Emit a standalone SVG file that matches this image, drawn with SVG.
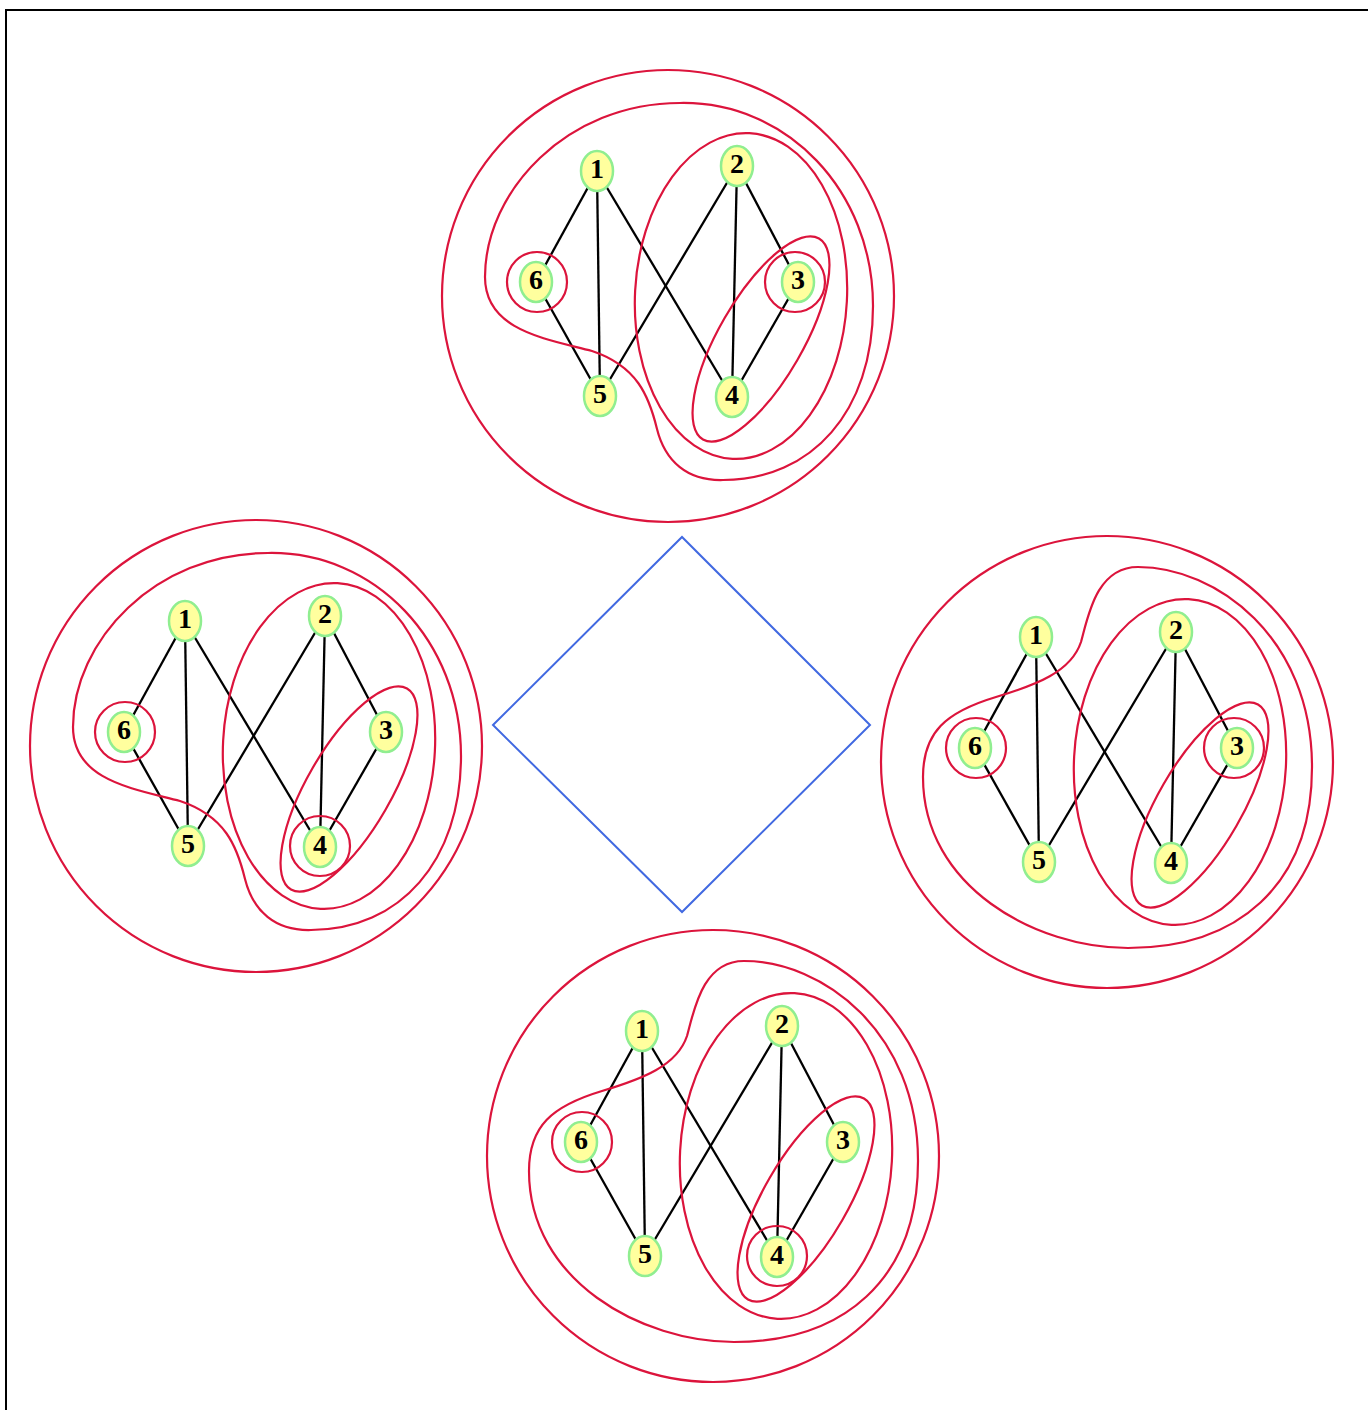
<svg xmlns="http://www.w3.org/2000/svg" xmlns:xlink="http://www.w3.org/1999/xlink" width="1368" height="1410" viewBox="0 0 1368 1410">
<style>
.frame{fill:none;stroke:#000;stroke-width:2}
.dia{fill:none;stroke:#4169e1;stroke-width:2}
.cl{fill:none;stroke:#dc143c;stroke-width:2.2}
.e{stroke:#000;stroke-width:2.3;fill:none}
.n ellipse{fill:#ffff9e;stroke:#90ee90;stroke-width:2.5}
.n text{font-family:"Liberation Serif",serif;font-weight:bold;font-size:28px;text-anchor:middle;fill:#000}
</style>
<defs>
<g id="edges">
<line class="e" x1="0" y1="0" x2="-61" y2="111"/>
<line class="e" x1="0" y1="0" x2="3" y2="225"/>
<line class="e" x1="0" y1="0" x2="135" y2="226"/>
<line class="e" x1="140" y1="-5" x2="3" y2="225"/>
<line class="e" x1="140" y1="-5" x2="135" y2="226"/>
<line class="e" x1="140" y1="-5" x2="201" y2="111"/>
<line class="e" x1="-61" y1="111" x2="3" y2="225"/>
<line class="e" x1="201" y1="111" x2="135" y2="226"/>
</g>
<path id="blobA" class="cl" d="M 83,-68 C 190,-70 276,20 276,135 C 276,240 215,309 126,309 C 90,310 68,290 60,258 C 52,225 40,195 -5,180 C -50,168 -112,160 -112,106 C -112,20 -30,-68 83,-68 Z"/>
<path id="blobB" class="cl" d="M 102,-70 C 180,-70 276,0 276,130 C 276,250 200,311 92,311 C 0,311 -113,250 -113,140 C -113,95 -90,75 -40,60 C 0,48 35,35 45,5 C 52,-20 60,-70 102,-70 Z"/>
<g id="common">
<circle class="cl" cx="71" cy="125" r="226"/>
<ellipse class="cl" cx="144" cy="125" rx="106" ry="163" transform="rotate(3 144 125)"/>
<ellipse class="cl" cx="164" cy="168" rx="116" ry="42" transform="rotate(-60 164 168)"/>
<circle class="cl" cx="-60" cy="111" r="30"/>
</g>
</defs>

<path class="frame" d="M 6,1412 V 10 H 1370"/>
<polygon class="dia" points="493,725 682,537 870,725 682,912"/>

<g id="connectors">
<use xlink:href="#edges" transform="translate(597,171)"/>
<use xlink:href="#edges" transform="translate(185,621)"/>
<use xlink:href="#edges" transform="translate(1036,637)"/>
<use xlink:href="#edges" transform="translate(642,1031)"/>
</g>

<g id="clusters">
<g transform="translate(597,171)">
<use xlink:href="#common"/><use xlink:href="#blobA"/>
<circle class="cl" cx="198" cy="111" r="30"/>
</g>
<g transform="translate(185,621)">
<use xlink:href="#common"/><use xlink:href="#blobA"/>
<circle class="cl" cx="135" cy="225" r="30"/>
</g>
<g transform="translate(1036,637)">
<use xlink:href="#common"/><use xlink:href="#blobB"/>
<circle class="cl" cx="198" cy="111" r="30"/>
</g>
<g transform="translate(642,1031)">
<use xlink:href="#common"/><use xlink:href="#blobB"/>
<circle class="cl" cx="135" cy="225" r="30"/>
</g>
</g>

<g id="top-graph" transform="translate(597,171)">
<g id="t1" class="n"><ellipse cx="0" cy="0" rx="16" ry="20"/><text x="0" y="7">1</text></g>
<g id="t2" class="n"><ellipse cx="140" cy="-5" rx="16" ry="20"/><text x="140" y="2">2</text></g>
<g id="t3" class="n"><ellipse cx="201" cy="111" rx="16" ry="20"/><text x="201" y="118">3</text></g>
<g id="t4" class="n"><ellipse cx="135" cy="226" rx="16" ry="20"/><text x="135" y="233">4</text></g>
<g id="t5" class="n"><ellipse cx="3" cy="225" rx="16" ry="20"/><text x="3" y="232">5</text></g>
<g id="t6" class="n"><ellipse cx="-61" cy="111" rx="16" ry="20"/><text x="-61" y="118">6</text></g>
</g>
<g id="left-graph" transform="translate(185,621)">
<g id="l1" class="n"><ellipse cx="0" cy="0" rx="16" ry="20"/><text x="0" y="7">1</text></g>
<g id="l2" class="n"><ellipse cx="140" cy="-5" rx="16" ry="20"/><text x="140" y="2">2</text></g>
<g id="l3" class="n"><ellipse cx="201" cy="111" rx="16" ry="20"/><text x="201" y="118">3</text></g>
<g id="l4" class="n"><ellipse cx="135" cy="226" rx="16" ry="20"/><text x="135" y="233">4</text></g>
<g id="l5" class="n"><ellipse cx="3" cy="225" rx="16" ry="20"/><text x="3" y="232">5</text></g>
<g id="l6" class="n"><ellipse cx="-61" cy="111" rx="16" ry="20"/><text x="-61" y="118">6</text></g>
</g>
<g id="right-graph" transform="translate(1036,637)">
<g id="r1" class="n"><ellipse cx="0" cy="0" rx="16" ry="20"/><text x="0" y="7">1</text></g>
<g id="r2" class="n"><ellipse cx="140" cy="-5" rx="16" ry="20"/><text x="140" y="2">2</text></g>
<g id="r3" class="n"><ellipse cx="201" cy="111" rx="16" ry="20"/><text x="201" y="118">3</text></g>
<g id="r4" class="n"><ellipse cx="135" cy="226" rx="16" ry="20"/><text x="135" y="233">4</text></g>
<g id="r5" class="n"><ellipse cx="3" cy="225" rx="16" ry="20"/><text x="3" y="232">5</text></g>
<g id="r6" class="n"><ellipse cx="-61" cy="111" rx="16" ry="20"/><text x="-61" y="118">6</text></g>
</g>
<g id="bottom-graph" transform="translate(642,1031)">
<g id="b1" class="n"><ellipse cx="0" cy="0" rx="16" ry="20"/><text x="0" y="7">1</text></g>
<g id="b2" class="n"><ellipse cx="140" cy="-5" rx="16" ry="20"/><text x="140" y="2">2</text></g>
<g id="b3" class="n"><ellipse cx="201" cy="111" rx="16" ry="20"/><text x="201" y="118">3</text></g>
<g id="b4" class="n"><ellipse cx="135" cy="226" rx="16" ry="20"/><text x="135" y="233">4</text></g>
<g id="b5" class="n"><ellipse cx="3" cy="225" rx="16" ry="20"/><text x="3" y="232">5</text></g>
<g id="b6" class="n"><ellipse cx="-61" cy="111" rx="16" ry="20"/><text x="-61" y="118">6</text></g>
</g>
</svg>
